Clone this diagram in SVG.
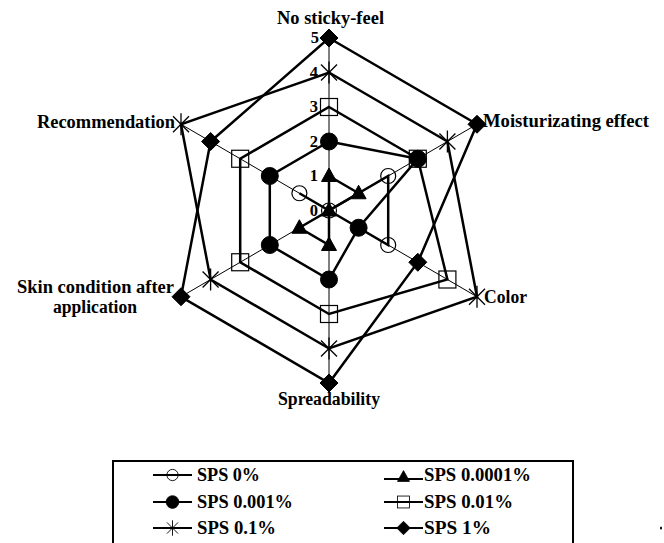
<svg xmlns="http://www.w3.org/2000/svg" xmlns:xlink="http://www.w3.org/1999/xlink" width="664" height="543" viewBox="0 0 664 543">
<style>
.lbl{font-family:"Liberation Serif","Times New Roman",serif;font-weight:bold;font-size:18px;fill:#000}
.tick{font-family:"Liberation Serif","Times New Roman",serif;font-weight:bold;font-size:16.5px;fill:#000;text-anchor:end}
.axis{stroke:#000;stroke-width:1;fill:none}
.series{stroke:#000;stroke-width:2.5;fill:none}
.leg{stroke:#000;stroke-width:2;fill:none}
.open{fill:none;stroke:#000;stroke-width:1.2}
.solid{fill:#000;stroke:#000;stroke-width:1}
</style>
<defs>
<circle id="m0" class="open" cx="0" cy="0" r="7.5"/>
<polygon id="m1" class="solid" points="0,-8 7.5,5.5 -7.5,5.5"/>
<circle id="m2" class="solid" cx="0" cy="0" r="8.5"/>
<rect id="m3" class="open" x="-8.5" y="-8.5" width="17" height="17"/>
<path id="m4" class="open" d="M-8,-8L8,8M-8,8L8,-8M0,-11V11" style="stroke-width:1.3"/>
<polygon id="m5" class="solid" points="0,-9 9,0 0,9 -9,0"/>
</defs>
<rect width="664" height="543" fill="#fff"/>

<g id="connectors">
<g id="axes" class="axis">
<line x1="329" y1="210.5" x2="329" y2="38"/>
<line x1="329" y1="210.5" x2="477" y2="124.25"/>
<line x1="329" y1="210.5" x2="477" y2="296.75"/>
<line x1="329" y1="210.5" x2="329" y2="383"/>
<line x1="329" y1="210.5" x2="181" y2="296.75"/>
<line x1="329" y1="210.5" x2="181" y2="124.25"/>
</g>
<polygon id="line-sps0" class="series" points="329,210.5 388.2,176 388.2,245 329,210.5 299.4,193.25"/>
<polygon id="line-sps00001" class="series" points="329,176 358.6,193.25 329,210.5 329,245 299.4,227.75 329,210.5"/>
<polygon id="line-sps0001" class="series" points="329,141.5 417.8,158.75 358.6,227.75 329,279.5 269.8,245 269.8,176"/>
<polygon id="line-sps001" class="series" points="329,107 417.8,158.75 447.4,279.5 329,314 240.2,262.25 240.2,158.75"/>
<polygon id="line-sps01" class="series" points="329,72.5 447.4,141.5 477,296.75 329,348.5 210.6,279.5 181,124.25"/>
<polygon id="line-sps1" class="series" points="329,38 477,124.25 417.8,262.25 329,383 181,296.75 210.6,141.5"/>
</g>

<g id="ticks">
<text class="tick" x="318" y="216">0</text>
<text class="tick" x="318" y="181">1</text>
<text class="tick" x="318" y="147">2</text>
<text class="tick" x="318" y="112">3</text>
<text class="tick" x="318" y="78">4</text>
<text class="tick" x="319" y="43">5</text>
</g>

<g id="series-sps0">
<use xlink:href="#m0" x="329" y="210.5"/>
<use xlink:href="#m0" x="388.2" y="176"/>
<use xlink:href="#m0" x="388.2" y="245"/>
<use xlink:href="#m0" x="299.4" y="193.25"/>
</g>
<g id="series-sps00001">
<use xlink:href="#m1" x="329" y="176"/>
<use xlink:href="#m1" x="358.6" y="193.25"/>
<use xlink:href="#m1" x="329" y="210.5"/>
<use xlink:href="#m1" x="329" y="245"/>
<use xlink:href="#m1" x="299.4" y="227.75"/>
</g>
<g id="series-sps0001">
<use xlink:href="#m2" x="329" y="141.5"/>
<use xlink:href="#m2" x="417.8" y="158.75"/>
<use xlink:href="#m2" x="358.6" y="227.75"/>
<use xlink:href="#m2" x="329" y="279.5"/>
<use xlink:href="#m2" x="269.8" y="245"/>
<use xlink:href="#m2" x="269.8" y="176"/>
</g>
<g id="series-sps001">
<use xlink:href="#m3" x="329" y="107"/>
<use xlink:href="#m3" x="417.8" y="158.75"/>
<use xlink:href="#m3" x="447.4" y="279.5"/>
<use xlink:href="#m3" x="329" y="314"/>
<use xlink:href="#m3" x="240.2" y="262.25"/>
<use xlink:href="#m3" x="240.2" y="158.75"/>
</g>
<g id="series-sps01">
<use xlink:href="#m4" x="329" y="72.5"/>
<use xlink:href="#m4" x="447.4" y="141.5"/>
<use xlink:href="#m4" x="477" y="296.75"/>
<use xlink:href="#m4" x="329" y="348.5"/>
<use xlink:href="#m4" x="210.6" y="279.5"/>
<use xlink:href="#m4" x="181" y="124.25"/>
</g>
<g id="series-sps1">
<use xlink:href="#m5" x="329" y="38"/>
<use xlink:href="#m5" x="477" y="124.25"/>
<use xlink:href="#m5" x="417.8" y="262.25"/>
<use xlink:href="#m5" x="329" y="383"/>
<use xlink:href="#m5" x="181" y="296.75"/>
<use xlink:href="#m5" x="210.6" y="141.5"/>
</g>

<g id="axis-labels">
<text id="lbl-sticky" class="lbl" x="277" y="23.5" textLength="107" lengthAdjust="spacingAndGlyphs">No sticky-feel</text>
<text id="lbl-moist" class="lbl" x="483" y="127" textLength="166" lengthAdjust="spacingAndGlyphs">Moisturizating effect</text>
<text id="lbl-color" class="lbl" x="484" y="303" textLength="43" lengthAdjust="spacingAndGlyphs">Color</text>
<text id="lbl-spread" class="lbl" x="278" y="405" textLength="102" lengthAdjust="spacingAndGlyphs">Spreadability</text>
<text id="lbl-skin" class="lbl" x="17" y="293" textLength="157" lengthAdjust="spacingAndGlyphs">Skin condition after</text>
<text id="lbl-skin2" class="lbl" x="53" y="313" textLength="84" lengthAdjust="spacingAndGlyphs">application</text>
<text id="lbl-rec" class="lbl" x="37" y="128" textLength="138" lengthAdjust="spacingAndGlyphs">Recommendation</text>
</g>

<g id="legend">
<rect x="113" y="461" width="460" height="95" fill="none" stroke="#000" stroke-width="2"/>
<g id="leg-sps0">
<line class="leg" x1="153" y1="475" x2="192" y2="475"/>
<use xlink:href="#m0" transform="translate(172.5,475) scale(0.75)"/>
<text class="lbl" x="197" y="481" textLength="63" lengthAdjust="spacingAndGlyphs">SPS 0%</text>
</g>
<g id="leg-sps0001">
<line class="leg" x1="153" y1="502" x2="192" y2="502"/>
<use xlink:href="#m2" transform="translate(172.5,502) scale(0.75)"/>
<text class="lbl" x="197" y="508" textLength="96" lengthAdjust="spacingAndGlyphs">SPS 0.001%</text>
</g>
<g id="leg-sps01">
<line class="leg" x1="153" y1="528" x2="192" y2="528"/>
<use xlink:href="#m4" transform="translate(172.5,528) scale(0.7)"/>
<text class="lbl" x="197" y="534" textLength="79" lengthAdjust="spacingAndGlyphs">SPS 0.1%</text>
</g>
<g id="leg-sps00001">
<line class="leg" x1="384" y1="479" x2="423" y2="479"/>
<use xlink:href="#m1" transform="translate(403.5,477) scale(0.8)"/>
<text class="lbl" x="424" y="481" textLength="107" lengthAdjust="spacingAndGlyphs">SPS 0.0001%</text>
</g>
<g id="leg-sps001">
<line class="leg" x1="384" y1="502" x2="423" y2="502"/>
<use xlink:href="#m3" transform="translate(403.5,502) scale(0.7)"/>
<text class="lbl" x="424" y="508" textLength="89" lengthAdjust="spacingAndGlyphs">SPS 0.01%</text>
</g>
<g id="leg-sps1">
<line class="leg" x1="384" y1="528" x2="423" y2="528"/>
<use xlink:href="#m5" transform="translate(403.5,528) scale(0.75)"/>
<text class="lbl" x="424" y="534" textLength="67" lengthAdjust="spacingAndGlyphs">SPS 1%</text>
</g>
</g>
<ellipse cx="661" cy="528" rx="1" ry="1.6" fill="#000"/>
</svg>
